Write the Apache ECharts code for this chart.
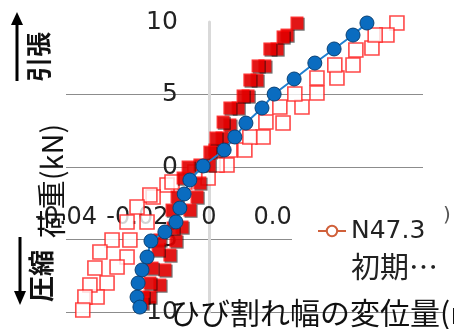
<!DOCTYPE html>
<html><head><meta charset="utf-8">
<script src="https://cdn.jsdelivr.net/npm/echarts@6/dist/echarts.min.js"></script>
<style>html,body{margin:0;padding:0;background:#fff}#c{width:454px;height:329px}</style>
</head><body><div id="c"></div>
<script>
// x: crack width displacement, y: load (kN)
const blueX = [0.0443,0.0404,0.0351,0.0297,0.0239,0.0183,0.0149,0.0104,0.0073,0.0043,-0.0016,-0.0053,-0.0069,-0.0081,-0.0092,-0.0123,-0.0162,-0.0173,-0.0187,-0.0198,-0.0201,-0.0193];
const blueY = [9.93,9.10,8.14,7.17,6.07,5.03,4.07,3.03,2.07,1.17,0.07,-0.90,-1.86,-2.83,-3.79,-4.48,-5.10,-6.21,-7.10,-8.00,-8.97,-9.66];
const red1X = [0.0247,0.0219,0.0191,0.0157,0.0135,0.0110,0.0082,0.0059,0.0037,0.0017,0.0001,-0.0025,-0.0033,-0.0053,-0.0075,-0.0092,-0.0109,-0.0123,-0.0137,-0.0165];
const red1Y = [9.93,9.10,8.14,6.97,6.00,4.90,4.07,2.90,2.00,1.17,0.14,-1.10,-2.07,-2.97,-4.14,-5.10,-6.07,-7.10,-8.14,-8.97];
const red2X = [0.0208,0.0171,0.0138,0.0115,0.0096,0.0059,0.0040,0.0020,0.0003,-0.0025,-0.0058,-0.0072,-0.0089,-0.0103,-0.0100,-0.0137,-0.0142,-0.0159,-0.0165,-0.0184,-0.0187];
const red2Y = [8.97,8.14,6.97,6.00,4.90,4.07,3.10,2.00,1.03,0.14,0.00,-0.76,-2.07,-2.97,-4.21,-5.03,-5.72,-6.97,-8.00,-8.97,-9.38];
const hol1X = [0.0527,0.0499,0.0457,0.0404,0.0359,0.0303,0.0261,0.0208,0.0152,0.0101,0.0051,-0.0002,-0.0067,-0.0117,-0.0156,-0.0173,-0.0221,-0.0229,-0.0257,-0.0285,-0.0313];
const hol1Y = [9.93,9.10,8.21,7.03,6.14,5.10,4.14,3.03,2.07,1.17,0.14,-0.76,-1.03,-1.24,-2.07,-3.79,-5.03,-6.21,-6.90,-8.00,-8.97];
const hol2X = [0.0466,0.0412,0.0353,0.0303,0.0241,0.0199,0.0160,0.0115,0.0059,0.0023,-0.0039,-0.0103,-0.0165,-0.0201,-0.0229,-0.0271,-0.0305,-0.0319,-0.0333,-0.0347,-0.0353];
const hol2Y = [9.10,8.07,7.03,6.14,5.03,4.14,3.10,2.07,1.17,0.14,-0.34,-1.03,-1.93,-2.76,-3.79,-5.03,-5.86,-6.97,-8.14,-8.97,-9.86];
const legendNames = ['N47.3','初期…'];
const xTitle = 'ひび割れ幅の変位量(mm)';
const yTitle = '荷重(kN)';

const zip = (xs, ys) => xs.map((x, i) => [x, ys[i]]);
const chart = echarts.init(document.getElementById('c'), null, {renderer: 'canvas'});
const hollowStyle = {color: '#ffffff', borderColor: '#ff1a1a', borderWidth: 1.6};
const filledStyle = {color: '#ff0000', shadowColor: 'rgba(0,0,0,0.7)', shadowOffsetX: 1.2, shadowOffsetY: 1.2, shadowBlur: 0};
// grid geometry: plot spans x 66..423, y 22..312 ; x=0 at 208.8, y=0 at 167
chart.setOption({
  animation: false,
  grid: {left: 66, right: 31, top: 22, bottom: 17, containLabel: false, outerBoundsMode: 'none'},
  xAxis: {
    type: 'value', min: -0.04, max: 0.06, interval: 0.02, position: 'bottom', offset: -145,
    axisLine: {show: false, onZero: false}, axisTick: {show: false}, splitLine: {show: false},
    axisLabel: {margin: 39, fontFamily: 'DejaVu Sans', fontSize: 24, color: '#222',
      formatter: v => String(+v.toFixed(2))}
  },
  yAxis: {
    type: 'value', min: -10, max: 10, interval: 5, position: 'left', offset: -142.8,
    axisLine: {show: true, onZero: false, lineStyle: {color: '#d9d9d9', width: 3}},
    axisTick: {show: false},
    axisLabel: {margin: 31, fontFamily: 'DejaVu Sans', fontSize: 25, color: '#222'},
    splitLine: {show: true, lineStyle: {color: ['#8c8c8c','#8c8c8c','#8c8c8c','#8c8c8c','rgba(0,0,0,0)'], width: 1}}
  },
  legend: {
    left: 317, top: 216, orient: 'vertical', itemWidth: 28, itemHeight: 13, itemGap: 6, padding: 0,
    textStyle: {fontFamily: 'DejaVu Sans', fontSize: 25, color: '#222', lineHeight: 30},
    data: [
      {name: legendNames[0]},
      {name: legendNames[1], itemStyle: {opacity: 0}, lineStyle: {opacity: 0},
       textStyle: {fontFamily: 'Noto Sans CJK JP', fontSize: 29, color: '#222'}}
    ],
    z: 6
  },
  series: [
    {name: 'hollow1', type: 'scatter', symbol: 'rect', symbolSize: 14, data: zip(hol1X, hol1Y), itemStyle: hollowStyle},
    {name: 'hollow2', type: 'scatter', symbol: 'rect', symbolSize: 14, data: zip(hol2X, hol2Y), itemStyle: hollowStyle},
    {name: 'blue', type: 'line', symbol: 'circle', symbolSize: 14, data: zip(blueX, blueY),
     lineStyle: {color: '#1f7fd0', width: 2}, itemStyle: {color: '#0a6cc0', borderColor: '#083f73', borderWidth: 1}},
    {name: 'filled1', type: 'scatter', symbol: 'rect', symbolSize: 13, data: zip(red1X, red1Y), itemStyle: filledStyle},
    {name: 'filled2', type: 'scatter', symbol: 'rect', symbolSize: 13, data: zip(red2X, red2Y), itemStyle: filledStyle},
    {name: legendNames[0], type: 'line', symbol: 'emptyCircle', symbolSize: 12, data: [],
     lineStyle: {color: '#d0603a', width: 1.5}, itemStyle: {color: '#d0603a', borderColor: '#d0603a'}},
    {name: legendNames[1], type: 'line', symbol: 'none', data: [],
     lineStyle: {opacity: 0}, itemStyle: {opacity: 0}}
  ],
  graphic: [
    {type: 'rect', shape: {x: 292, y: 170, width: 162, height: 141}, style: {fill: '#ffffff'}, z: 3, silent: true},
    {type: 'line', shape: {x1: 423, y1: 312.5, x2: 443, y2: 312.5}, style: {stroke: '#8c8c8c', lineWidth: 1}, z: 3},
    {type: 'text', x: 443, y: 216, style: {text: ')', font: '20px DejaVu Sans', fill: '#555', verticalAlign: 'middle'}, z: 7},
    {type: 'text', x: 170, y: 313, style: {text: xTitle, font: '30px "Noto Sans CJK JP"', fill: '#111', verticalAlign: 'middle', align: 'left'}, z: 10},
    {type: 'text', x: 52, y: 181, rotation: Math.PI / 2, style: {text: yTitle, font: '29px "Noto Sans CJK JP"', fill: '#111', align: 'center', verticalAlign: 'middle'}, z: 10},
    {type: 'text', x: 38, y: 57, rotation: Math.PI / 2, style: {text: '引張', font: 'bold 25px "Noto Sans CJK JP"', fill: '#111', align: 'center', verticalAlign: 'middle'}, z: 10},
    {type: 'text', x: 41, y: 276, rotation: Math.PI / 2, style: {text: '圧縮', font: 'bold 26px "Noto Sans CJK JP"', fill: '#111', align: 'center', verticalAlign: 'middle'}, z: 10},
    {type: 'line', shape: {x1: 17, y1: 81, x2: 17, y2: 22}, style: {stroke: '#000', lineWidth: 3}, z: 10},
    {type: 'polygon', shape: {points: [[11, 25], [23, 25], [17, 12]]}, style: {fill: '#000'}, z: 10},
    {type: 'line', shape: {x1: 20, y1: 237, x2: 20, y2: 294}, style: {stroke: '#000', lineWidth: 3}, z: 10},
    {type: 'polygon', shape: {points: [[14, 291], [26, 291], [20, 305]]}, style: {fill: '#000'}, z: 10}
  ]
});
</script></body></html>
